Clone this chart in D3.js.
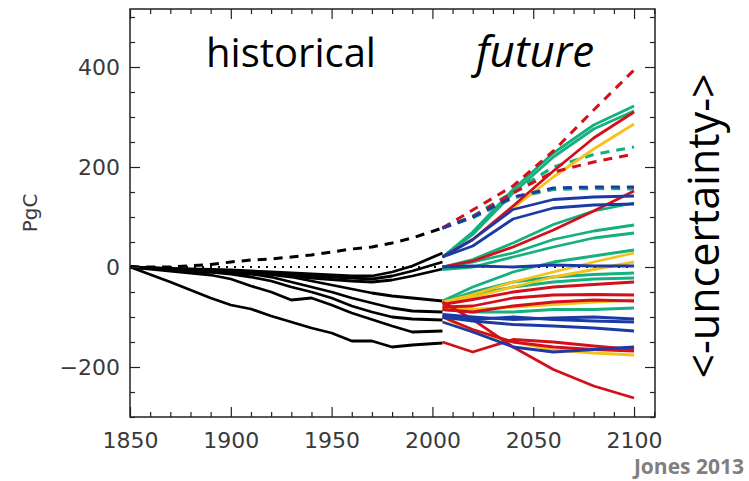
<!DOCTYPE html>
<html>
<head>
<meta charset="utf-8">
<script src="https://cdn.jsdelivr.net/npm/d3@7"></script>
<style>
  body { margin: 0; background: #fff; }
  svg { display: block; }
  .tick text { font-family: "DejaVu Sans", sans-serif; font-size: 22px; fill: #3a3a3a; }
  .tick line { stroke: #222; stroke-width: 1.2; }
  .domain { display: none; }
</style>
</head>
<body>
<div id="chart"></div>
<script>
// ---- data ----
var histYears = [1850, 1870, 1890, 1900, 1910, 1920, 1930, 1940, 1950, 1960, 1970, 1980, 1990, 2005];

var histSolid = [
    [0, -3, -5, -6, -8, -10, -12, -14, -16, -18, -18, -10, 2, 28],
    [0, -4, -7, -8, -10, -12, -15, -18, -20, -22, -24, -18, -8, 10],
    [0, -5, -8, -10, -12, -14, -18, -22, -25, -28, -30, -26, -18, -4],
    [0, -4, -8, -10, -12, -15, -20, -28, -36, -44, -52, -58, -62, -68],
    [0, -5, -10, -12, -14, -20, -30, -40, -50, -62, -72, -82, -88, -90],
    [0, -6, -10, -14, -20, -28, -40, -50, -62, -78, -90, -100, -104, -106],
    [0, -8, -16, -24, -38, -50, -66, -62, -76, -92, -105, -118, -130, -128],
    [0, -30, -62, -76, -84, -98, -110, -122, -132, -148, -148, -160, -156, -152]
];
var histDashed = [0, 0, 5, 10, 14, 16, 20, 24, 30, 36, 40, 48, 58, 78];
var zeroLine = [[1850, 0], [2100, 0]];

var futYears = [2005, 2020, 2040, 2060, 2080, 2100];

var greenDashed = [
    [78, 102, 150, 200, 225, 240],
    [78, 98, 138, 155, 157, 156]
];
var greenSolid = [
    [20, 70, 155, 228, 284, 322],
    [20, 65, 148, 220, 276, 312],
    [0, 15, 48, 85, 112, 128],
    [0, 10, 28, 55, 72, 84],
    [-5, 0, 20, 40, 58, 68],
    [-68, -40, -10, 10, 22, 34],
    [-70, -50, -30, -20, -15, -12],
    [-72, -55, -40, -30, -24, -22],
    [-85, -90, -90, -85, -85, -82]
];
var yellowSolid = [
    [20, 55, 118, 180, 236, 286],
    [-70, -55, -30, -10, 10, 28],
    [-70, -60, -40, -20, -5, 10],
    [-80, -85, -80, -75, -70, -66],
    [-100, -130, -150, -166, -172, -176]
];
var redDashed = [
    [78, 114, 162, 232, 314, 394],
    [78, 100, 148, 190, 210, 226]
];
var redSolid = [
    [20, 55, 122, 192, 258, 310],
    [0, 12, 40, 74, 112, 152],
    [-75, -65, -50, -40, -35, -30],
    [-80, -78, -62, -56, -55, -56],
    [-85, -90, -78, -70, -66, -68],
    [-70, -105, -160, -205, -238, -262],
    [-150, -170, -145, -150, -158, -165],
    [-100, -125, -150, -160, -165, -168]
];
var blueDashed = [
    [78, 100, 140, 158, 160, 160]
];
var blueSolid = [
    [20, 55, 115, 135, 140, 142],
    [20, 42, 96, 118, 124, 126],
    [0, 2, 0, 4, 2, 2],
    [-95, -100, -105, -102, -100, -104],
    [-100, -105, -100, -105, -108, -110],
    [-100, -108, -115, -118, -122, -128],
    [-110, -130, -160, -170, -165, -160]
];

var xMajor = [1850, 1900, 1950, 2000, 2050, 2100];
var yMajor = [-200, 0, 200, 400];

// ---- layout ----
var W = 749, H = 481;
var x = d3.scaleLinear().domain([1850, 2110.4]).range([130, 655]);
var y = d3.scaleLinear().domain([-300, 516]).range([417, 9]);

var colors = { green: "#14b07e", yellow: "#f6c21a", red: "#d2101c", blue: "#1c3aa6" };

var svg = d3.select("#chart").append("svg")
    .attr("width", W)
    .attr("height", H);

var line = d3.line()
    .x(function(d) { return x(d[0]); })
    .y(function(d) { return y(d[1]); });

function drawSet(years, rows, color, dashed, width) {
    svg.append("g").selectAll("path")
        .data(rows)
        .enter().append("path")
        .attr("d", function(r) { return line(r.map(function(v, i) { return [years[i], v]; })); })
        .attr("fill", "none")
        .attr("stroke", color)
        .attr("stroke-width", width)
        .attr("stroke-linejoin", "round")
        .attr("stroke-dasharray", dashed ? "9,7" : null);
}

// dotted zero line
svg.append("path")
    .attr("d", line(zeroLine))
    .attr("fill", "none")
    .attr("stroke", "#111")
    .attr("stroke-width", 2)
    .attr("stroke-dasharray", "2,6");

// historical
drawSet(histYears, histSolid, "#000", false, 2.8);
drawSet(histYears, [histDashed], "#000", true, 3);

// future
drawSet(futYears, greenDashed, colors.green, true, 3);
drawSet(futYears, greenSolid, colors.green, false, 2.8);
drawSet(futYears, yellowSolid, colors.yellow, false, 2.8);
drawSet(futYears, redDashed, colors.red, true, 3);
drawSet(futYears, redSolid, colors.red, false, 2.8);
drawSet(futYears, blueDashed, colors.blue, true, 3);
drawSet(futYears, blueSolid, colors.blue, false, 2.8);

// ---- axes: ticks inside on all four sides ----
var xMinor = d3.range(1850, 2111, 10).filter(function(v) { return xMajor.indexOf(v) < 0; });
var yMinor = d3.range(-300, 516, 50).filter(function(v) { return yMajor.indexOf(v) < 0; });

svg.append("g").attr("transform", "translate(0,417)")
    .call(d3.axisBottom(x).tickValues(xMajor).tickSize(-10).tickPadding(15).tickFormat(d3.format("d")));
svg.append("g").attr("transform", "translate(0,417)")
    .call(d3.axisBottom(x).tickValues(xMinor).tickSize(-5).tickFormat(""));
svg.append("g").attr("transform", "translate(0,9)")
    .call(d3.axisTop(x).tickValues(xMajor).tickSize(-10).tickFormat(""));
svg.append("g").attr("transform", "translate(0,9)")
    .call(d3.axisTop(x).tickValues(xMinor).tickSize(-5).tickFormat(""));

svg.append("g").attr("transform", "translate(130,0)")
    .call(d3.axisLeft(y).tickValues(yMajor).tickSize(-10).tickPadding(10));
svg.append("g").attr("transform", "translate(130,0)")
    .call(d3.axisLeft(y).tickValues(yMinor).tickSize(-5).tickFormat(""));
svg.append("g").attr("transform", "translate(655,0)")
    .call(d3.axisRight(y).tickValues(yMajor).tickSize(-10).tickFormat(""));
svg.append("g").attr("transform", "translate(655,0)")
    .call(d3.axisRight(y).tickValues(yMinor).tickSize(-5).tickFormat(""));

svg.append("rect")
    .attr("x", 130).attr("y", 9)
    .attr("width", 525).attr("height", 408)
    .attr("fill", "none")
    .attr("stroke", "#222")
    .attr("stroke-width", 1.5);

// ---- text ----
svg.append("text")
    .attr("transform", "translate(37,213) rotate(-90)")
    .attr("text-anchor", "middle")
    .style("font-family", "DejaVu Sans, sans-serif")
    .style("font-size", "20px")
    .style("fill", "#3a3a3a")
    .text("PgC");

svg.append("text")
    .attr("x", 291).attr("y", 67)
    .attr("text-anchor", "middle")
    .style("font-family", "Open Sans, sans-serif")
    .style("font-size", "40px")
    .text("historical");

svg.append("text")
    .attr("x", 535).attr("y", 67)
    .attr("text-anchor", "middle")
    .style("font-family", "Open Sans, sans-serif")
    .style("font-style", "italic")
    .style("font-size", "44px")
    .text("future");

svg.append("text")
    .attr("transform", "translate(719,226) rotate(-90)")
    .attr("text-anchor", "middle")
    .style("font-family", "Open Sans, sans-serif")
    .style("font-size", "43px")
    .text("<-uncertainty->");

svg.append("text")
    .attr("x", 744).attr("y", 474)
    .attr("text-anchor", "end")
    .style("font-family", "Open Sans, sans-serif")
    .style("font-weight", "bold")
    .style("font-size", "21px")
    .style("fill", "#7f7f7f")
    .text("Jones 2013");
</script>
</body>
</html>
